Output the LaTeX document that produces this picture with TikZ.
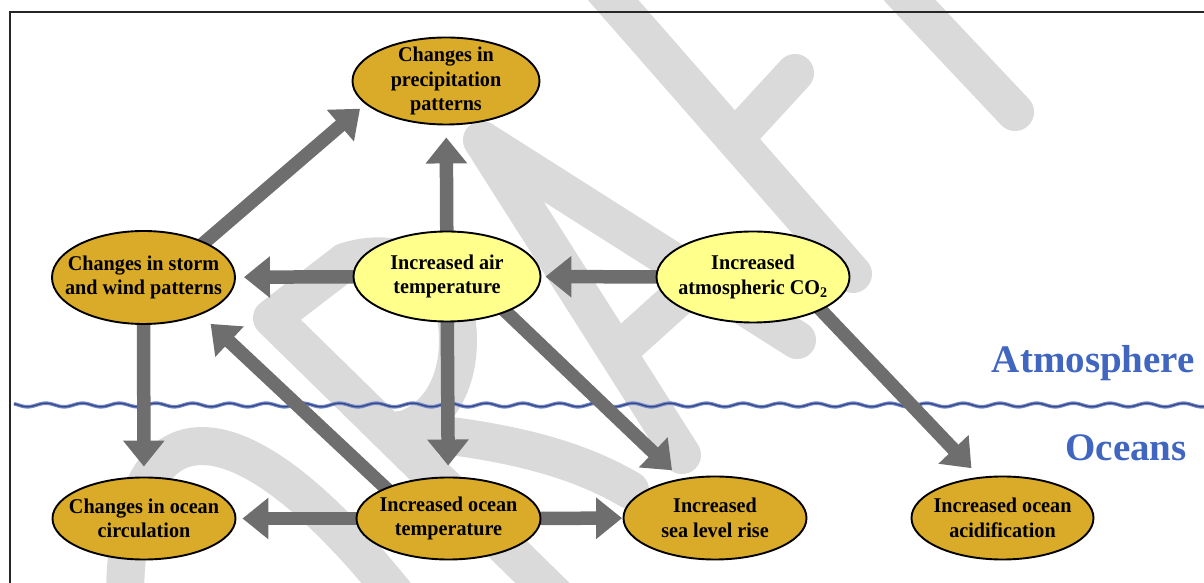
\documentclass[tikz,border=0pt]{standalone}
\usepackage{fontspec}
\setmainfont{Liberation Serif}
\newfontfamily\ovalfont{Liberation Serif}[FakeStretch=0.96]
\usetikzlibrary{arrows.meta,shapes.geometric}
\definecolor{gold}{RGB}{218,171,40}
\definecolor{lightyel}{RGB}{255,255,140}
\definecolor{arrgray}{RGB}{110,110,110}
\definecolor{wmgray}{RGB}{218,218,218}
\definecolor{labblue}{RGB}{64,102,192}
\definecolor{waveout}{RGB}{115,138,204}
\definecolor{wavein}{RGB}{55,70,130}
\pgfdeclarelayer{wm}
\pgfdeclarelayer{arr}
\pgfsetlayers{wm,arr,main}
\begin{document}
\begin{tikzpicture}[x=1pt,y=1pt,
  oval/.style={ellipse, draw=black, line width=1.9pt, inner sep=0pt},
  goldoval/.style={oval, fill=gold},
  yeloval/.style={oval, fill=lightyel},
  txt/.style={inner sep=0pt, align=center, font=\ovalfont\fontsize{21}{24.5}\selectfont\bfseries},
  bigarrow/.style={draw=arrgray, line width=13.5pt, shorten <=-10pt, -{Triangle[width=40pt,length=26pt]}},
  wmstroke/.style={draw=wmgray, line width=38pt, line cap=round, line join=round},
  region/.style={font=\fontsize{39}{44}\selectfont\bfseries, text=labblue, inner sep=0pt, anchor=base east}
]
\useasboundingbox (0,0) rectangle (1204,583);

% ---------- nodes ----------
\node[goldoval, minimum width=187pt, minimum height=87pt,
  label={[txt]center:{Changes in\\precipitation\\patterns}}] (precip) at (446,502) {};
\node[goldoval, minimum width=183pt, minimum height=93pt,
  label={[txt]center:{Changes in storm\\and wind patterns}}] (storm) at (143.5,305.5) {};
\node[yeloval, minimum width=187pt, minimum height=90pt,
  label={[txt]center:{Increased air\\temperature}}] (air) at (447,306.5) {};
\node[yeloval, minimum width=193pt, minimum height=91pt,
  label={[txt]center:{Increased\\atmospheric CO\textsubscript{2}}}] (co2) at (753,306) {};
\node[goldoval, minimum width=183pt, minimum height=82pt,
  label={[txt]center:{Changes in ocean\\circulation}}] (ocirc) at (144,64.5) {};
\node[goldoval, minimum width=184pt, minimum height=82pt,
  label={[txt]center:{Increased ocean\\temperature}}] (otemp) at (448.5,64.5) {};
\node[goldoval, minimum width=183pt, minimum height=83pt,
  label={[txt]center:{Increased\\sea level rise}}] (sea) at (715,65) {};
\node[goldoval, minimum width=182pt, minimum height=83pt,
  label={[txt]center:{Increased ocean\\acidification}}] (acid) at (1002.5,65) {};

\node[region] (atm) at (1195,210.3) {Atmosphere};
\node[region] (ocn) at (1187,122) {Oceans};

% ---------- watermark ----------
\begin{pgfonlayer}{wm}
\clip (0,0) rectangle (1204,583);
% T
\draw[wmstroke] (900,593) -- (1015,471);
% F
\draw[wmstroke] (600,598) -- (853,309);
\draw[wmstroke] (738,448) -- (795,510);
% A
\draw[wmstroke] (682,128) -- (482,443) -- (797,243);
\draw[wmstroke] (620,233) -- (700,305);
% R
\draw[wmstroke] (345,321) -- (272,265) -- (570,-27);
\draw[wmstroke] (345,321) .. controls (395,338) and (458,318) .. (458,243)
  .. controls (458,190) and (430,155) .. (390,150);
\draw[wmstroke] (400,153) .. controls (500,143) and (570,128) .. (630,93);
% D
\draw[wmstroke] (125,-17) .. controls (125,173) and (225,203) .. (400,-17);
\end{pgfonlayer}

% ---------- wave and arrows ----------
\begin{pgfonlayer}{arr}
\clip (0,0) rectangle (1204,583);
\draw[waveout, line width=3.6pt] plot[domain=14:1204, samples=600] (\x, {178 + 1.8*sin(\x*9.81)});
\draw[wavein, line width=1.3pt] plot[domain=14:1204, samples=600] (\x, {178 + 1.8*sin(\x*9.81)});

\draw[bigarrow, shorten >=7pt] (storm.30.7) -- (precip.196.6);
\draw[bigarrow, shorten >=12pt] (air) -- (precip);
\draw[bigarrow, shorten >=8pt] (air) -- (storm);
\draw[bigarrow, shorten >=4pt] (co2) -- (air);
\draw[bigarrow, shorten >=10pt] (storm) -- (ocirc);
\draw[bigarrow, shorten >=11pt] (air) -- (otemp);
\draw[bigarrow, shorten >=13.4pt] (otemp.154.2) -- (storm.327.3);
\draw[bigarrow, shorten >=12pt] (air.329.7) -- (sea.131);
\draw[bigarrow, shorten >=6pt] (otemp) -- (ocirc);
\draw[bigarrow, shorten >=0.5pt] (otemp) -- (sea);
\draw[bigarrow, shorten >=12pt] (co2.334.9) -- (acid.119.3);
\end{pgfonlayer}

% ---------- frame ----------
\draw[line width=2pt, black!85] (10,-10) -- (10,571) -- (1214,571);
\end{tikzpicture}
\end{document}
